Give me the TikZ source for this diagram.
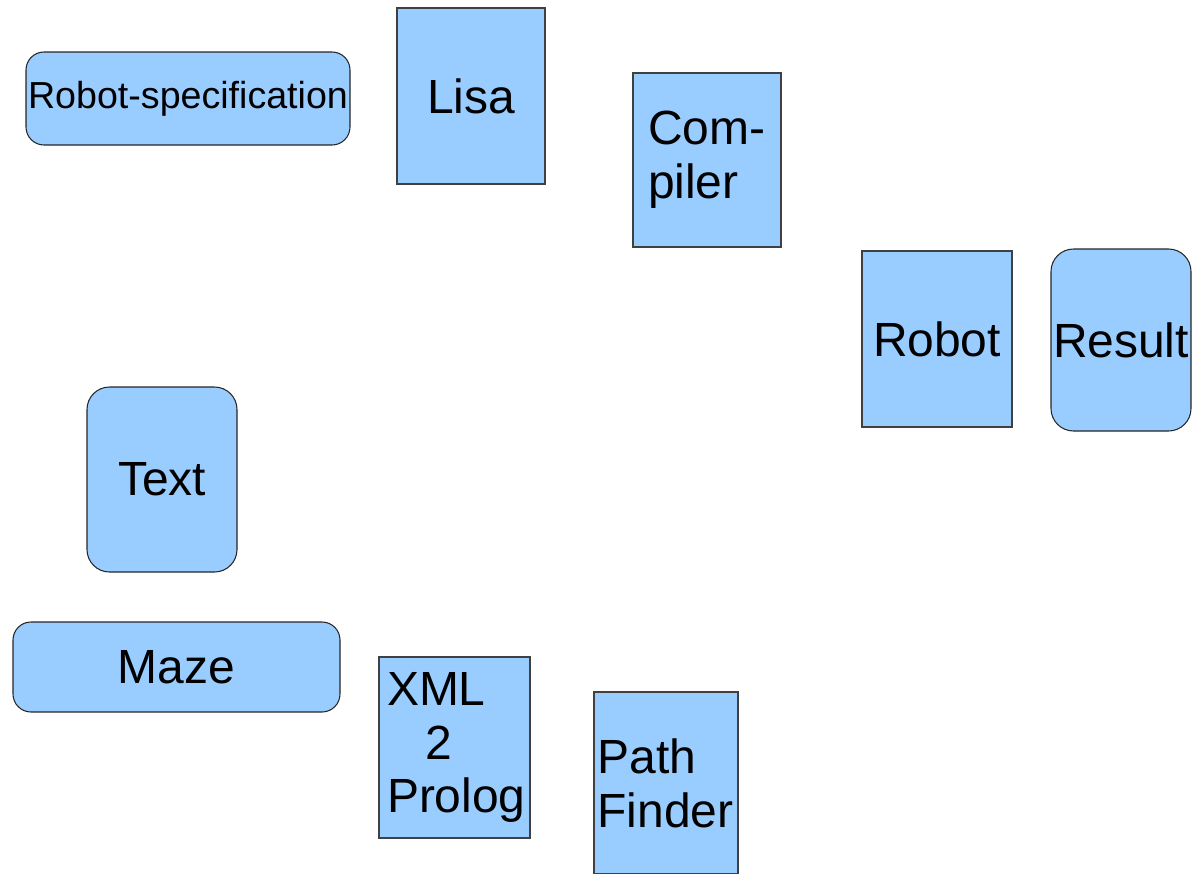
\documentclass[tikz,border=0pt]{standalone}
\usepackage{fontspec}
\setmainfont{Liberation Sans}
\usepackage{tikz}
\usepackage{xcolor}

\definecolor{boxblue}{HTML}{99CCFF}

\begin{document}
\begin{tikzpicture}[
    databox/.style={rectangle, rounded corners=0.36cm, draw=black!85, fill=boxblue, line width=0.6pt, inner sep=0pt, font=\fontsize{27.3}{30.6}\selectfont},
    procbox/.style={rectangle, draw=black!75, fill=boxblue, line width=0.6pt, inner sep=0pt, font=\fontsize{27.3}{30.6}\selectfont}]
\useasboundingbox (0,0) rectangle (23.84,-17.46);

% inputs on the left
\node (spec) [databox, minimum width=6.48cm, minimum height=1.86cm, font=\fontsize{21.4}{25}\selectfont] at (3.76,-1.97) {Robot-specification};
\node (text) [databox, rounded corners=0.45cm, minimum width=3.0cm, minimum height=3.70cm] at (3.24,-9.59) {Text};
\node (maze) [databox, minimum width=6.54cm, minimum height=1.8cm] at (3.53,-13.34) {Maze};

% processing steps
\node (lisa) [procbox, minimum width=2.96cm, minimum height=3.52cm] at (9.42,-1.92) {Lisa};
\node (compiler) [procbox, minimum width=2.96cm, minimum height=3.48cm, inner xsep=0.3cm, text width=2.36cm, align=left] at (14.14,-3.20) {Com-\\piler};
\node (robot) [procbox, minimum width=3.0cm, minimum height=3.52cm] at (18.74,-6.78) {Robot};
\node (xml) [procbox, minimum width=3.02cm, minimum height=3.62cm, inner xsep=0.16cm, text width=2.70cm, align=left] at (9.09,-14.95) {XML\\\hspace{0.8em}2\\Prolog};
\node (path) [procbox, minimum width=2.88cm, minimum height=3.64cm, inner xsep=0.07cm, text width=2.74cm, align=left] at (13.32,-15.66) {Path\\Finder};

% output
\node (result) [databox, rounded corners=0.45cm, minimum width=2.8cm, minimum height=3.64cm] at (22.42,-6.80) {Result};

\end{tikzpicture}
\end{document}
